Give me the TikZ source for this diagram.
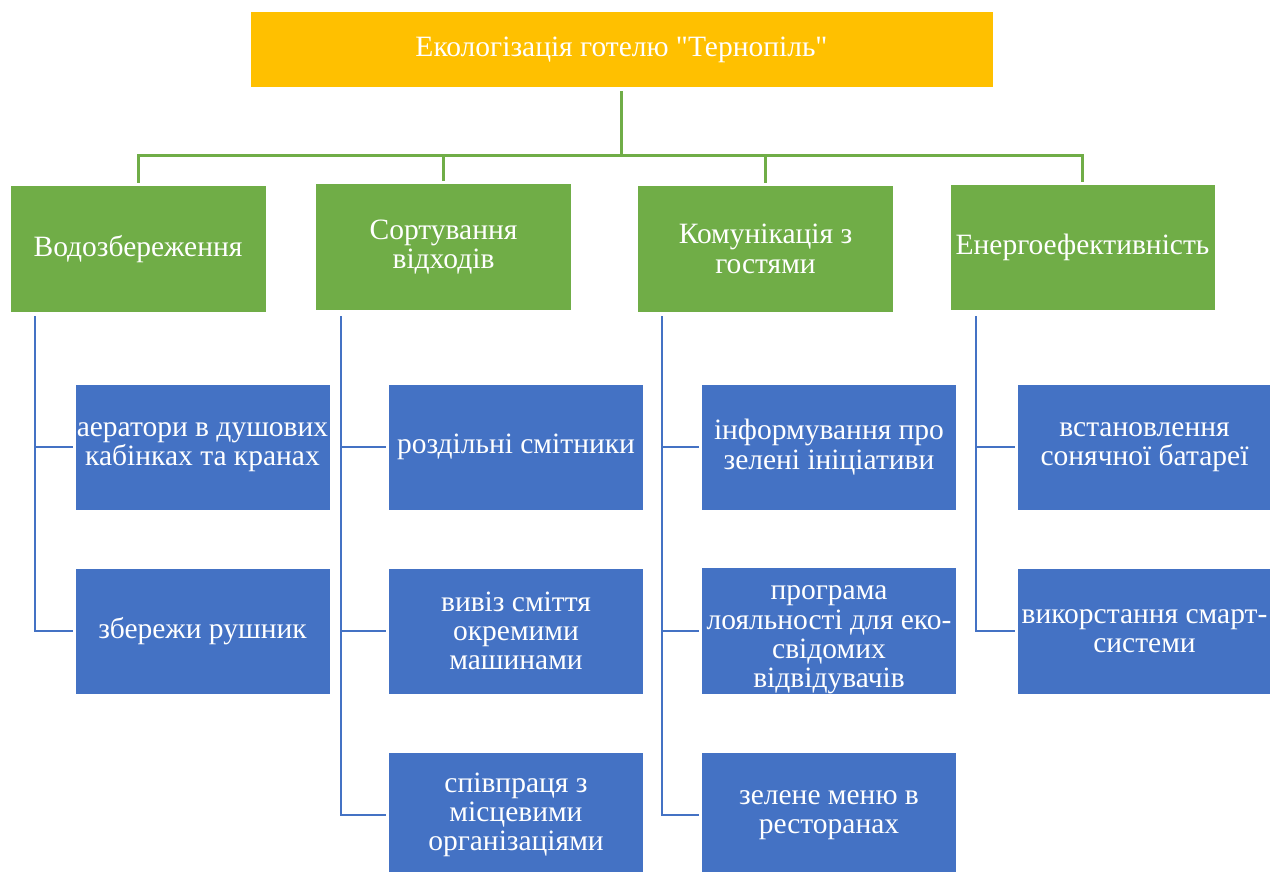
\documentclass[tikz,border=0pt]{standalone}
\usepackage{fontspec}
\setmainfont{Liberation Serif}
\definecolor{gold}{HTML}{FFC000}
\definecolor{leafgreen}{HTML}{70AD47}
\definecolor{itemblue}{HTML}{4472C4}
\newcommand{\dq}{\XeTeXglyph\XeTeXcharglyph"22\relax}
\tikzset{
  box/.style={draw=white, line width=1pt, text=white, align=center, inner xsep=1pt, inner ysep=4pt,
    minimum height=126pt, font=\fontsize{29.5}{29.3}\selectfont},
  topbox/.style={box, fill=gold, minimum width=743pt, minimum height=76pt},
  catbox/.style={box, fill=leafgreen, minimum width=256pt},
  itembox/.style={box, fill=itemblue, minimum width=255pt},
  greenline/.style={leafgreen, line width=3pt, shorten >=2pt},
  blueline/.style={itemblue, line width=2.5pt, shorten >=2pt},
}
\begin{document}
\begin{tikzpicture}[x=1pt,y=-1pt]
\useasboundingbox (0,0) rectangle (1270,872);
\node[topbox] (top) at (621.5,50) {Екологізація готелю \dq Тернопіль\dq};
%
\node[catbox] (wat) at (138,249) {Водозбереження};
\node[catbox] (sort) at (443.5,247) {Сортування\\відходів};
\node[catbox] (com) at (765.5,249) {Комунікація з\\гостями};
\node[catbox, minimum width=265pt] (ene) at (1082.5,247.5) {Енергоефективність};
%
\node[itembox] (a1) at (202.5,447) {аератори в душових\\кабінках та кранах};
\node[itembox] (a2) at (202.5,631) {збережи рушник};
\node[itembox] (b1) at (516,447) {роздільні смітники};
\node[itembox] (b2) at (516,631) {вивіз сміття\\окремими\\машинами};
\node[itembox] (b3) at (516,815) {співпраця з\\місцевими\\організаціями};
\node[itembox] (c1) at (829,447) {інформування про\\зелені ініціативи};
\node[itembox, inner ysep=0pt] (c2) at (829,631) {\rule{0pt}{32pt}програма\\лояльності для еко-\\свідомих\\відвідувачів};
\node[itembox] (c3) at (829,815) {зелене меню в\\ресторанах};
\node[itembox] (d1) at (1144.5,447) {встановлення\\сонячної батареї};
\node[itembox] (d2) at (1144.5,631) {викорстання смарт-\\системи};
%
\coordinate (hub) at (621.5,156);
\draw[greenline, shorten <=3pt] (top.south) -- (hub);
\draw[greenline] (hub) -| (wat);
\draw[greenline] (hub) -| (sort);
\draw[greenline] (hub) -| (com);
\draw[greenline] (hub) -| (ene);
%
\coordinate (t1) at (35,316);
\coordinate (t2) at (341,316);
\coordinate (t3) at (662,316);
\coordinate (t4) at (976,316);
\draw[blueline] (t1) |- (a1);
\draw[blueline] (t1) |- (a2);
\draw[blueline] (t2) |- (b1);
\draw[blueline] (t2) |- (b2);
\draw[blueline] (t2) |- (b3);
\draw[blueline] (t3) |- (c1);
\draw[blueline] (t3) |- (c2);
\draw[blueline] (t3) |- (c3);
\draw[blueline] (t4) |- (d1);
\draw[blueline] (t4) |- (d2);
\end{tikzpicture}
\end{document}
